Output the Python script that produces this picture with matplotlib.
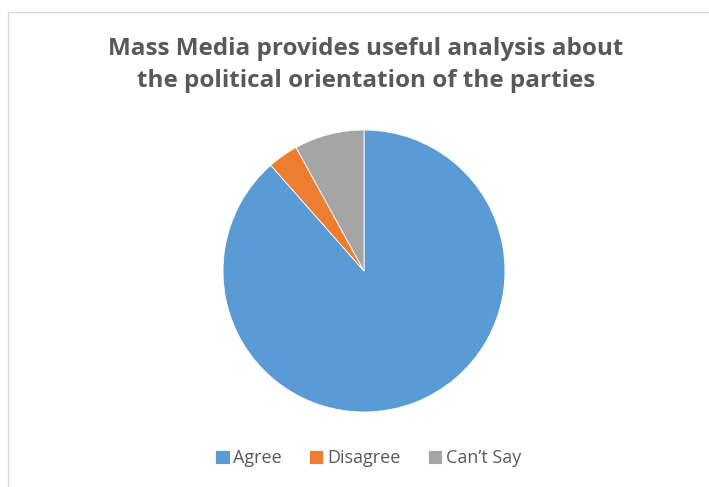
import matplotlib.pyplot as plt
from matplotlib.patches import Rectangle

labels = ["Agree", "Disagree", "Can\u2019t Say"]
shares = [88.5, 3.5, 8.0]
colors = ["#5B9BD5", "#ED7D31", "#A5A5A5"]
title = "Mass Media provides useful analysis about\nthe political orientation of the parties"

plt.rcParams["font.family"] = ["Open Sans", "DejaVu Sans"]

fig = plt.figure(figsize=(7.09, 4.87), dpi=100)
fig.patch.set_facecolor("white")

# chart frame
fig.add_artist(Rectangle((8 / 709, -0.01), 1.02, 1 - 12 / 487 + 0.01,
                         transform=fig.transFigure, fill=False,
                         edgecolor="#D9D9D9", linewidth=1))

ax = fig.add_axes([(364 - 141) / 709, (487 - 412) / 487, 282 / 709, 282 / 487])
wedges, _ = ax.pie(shares, colors=colors, startangle=90, counterclock=False,
                   wedgeprops=dict(edgecolor="white", linewidth=0.6))
ax.set_xlim(-1, 1)
ax.set_ylim(-1, 1)
ax.set_aspect("equal")

fig.text(366 / 709, 1 - 65 / 487, title, ha="center", va="center",
         fontsize=17.5, fontweight="bold", color="#595959", linespacing=1.45)

fig.legend(wedges, labels, loc="center", bbox_to_anchor=(368 / 709, 1 - 458 / 487),
           ncol=3, frameon=False, fontsize=13, handlelength=0.8, handleheight=0.8,
           handletextpad=0.2, columnspacing=1.5, labelcolor="#595959")

fig.savefig("out.png", dpi=100)
